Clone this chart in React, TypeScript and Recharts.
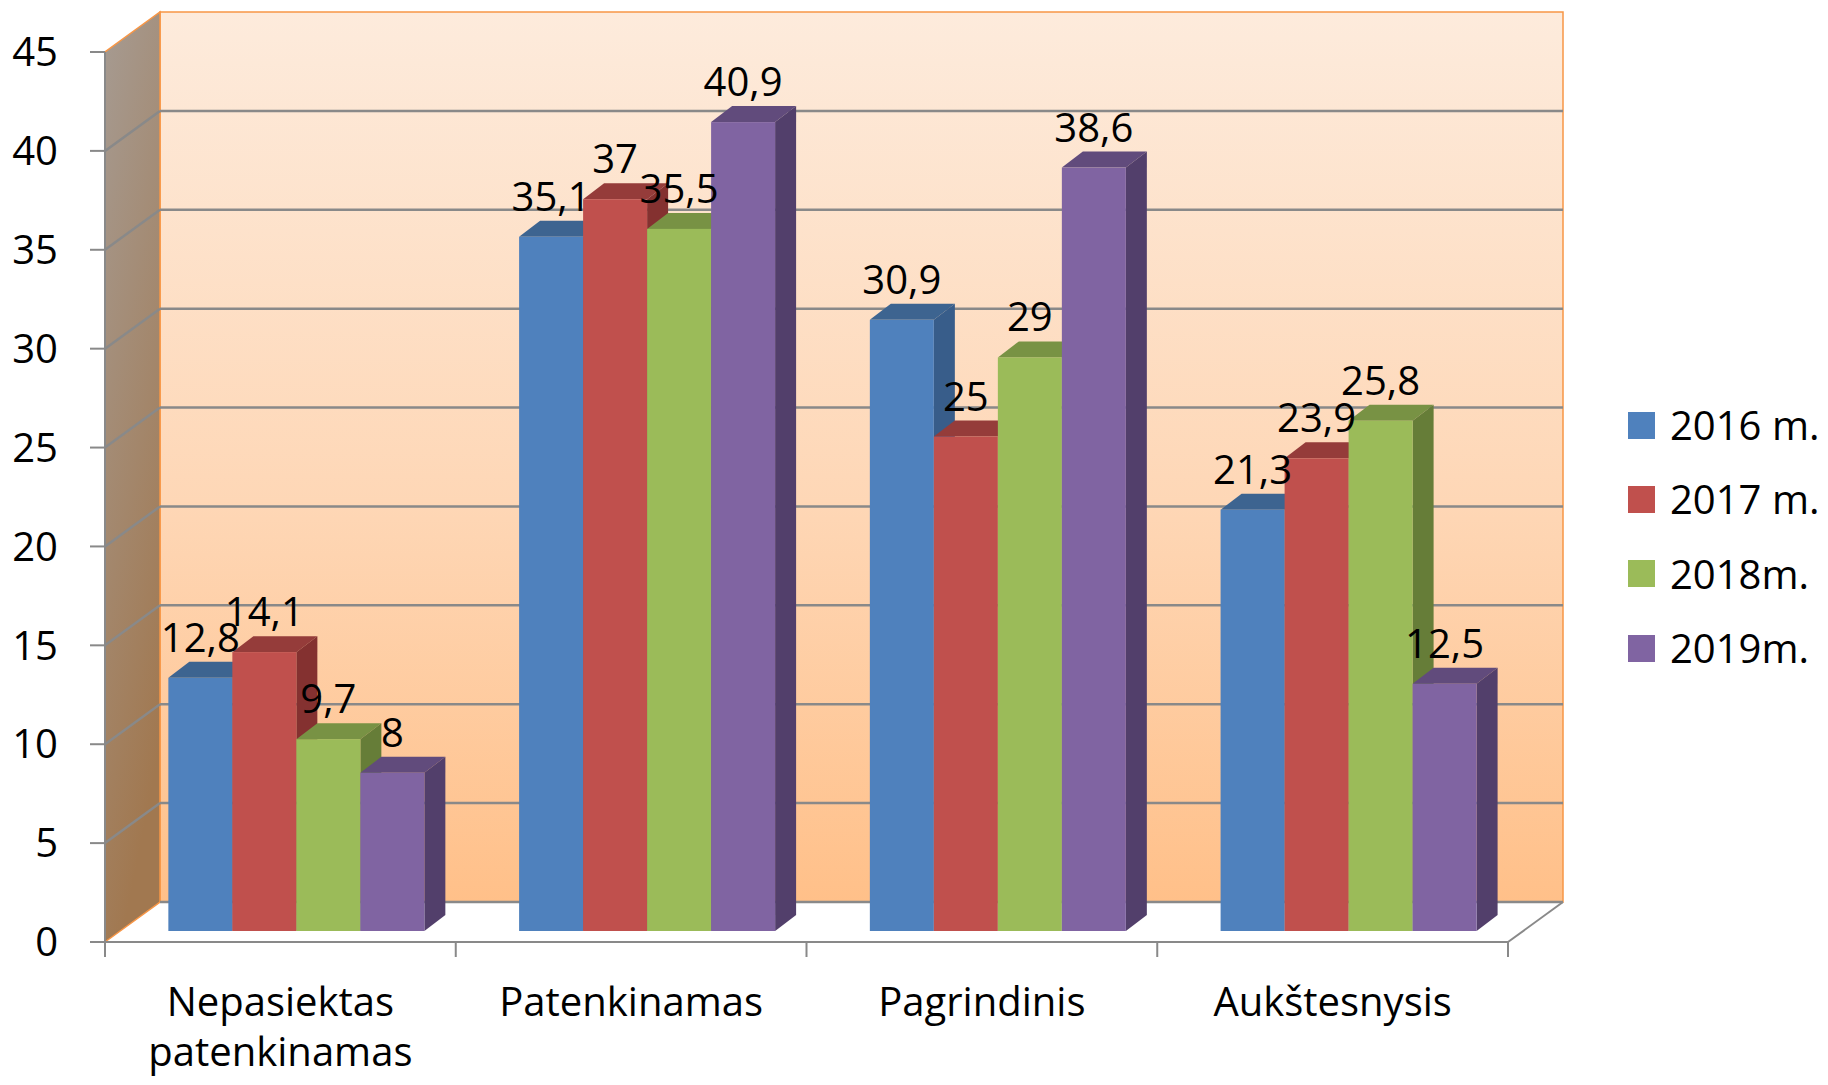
import React from "react";
import {
  BarChart,
  Bar,
  XAxis,
  YAxis,
  Legend,
  LabelList,
  ReferenceArea,
  ReferenceLine,
} from "recharts";

const categories = ["Nepasiektas patenkinamas", "Patenkinamas", "Pagrindinis", "Aukštesnysis"];
const values2016 = [12.8, 35.1, 30.9, 21.3];
const values2017 = [14.1, 37, 25, 23.9];
const values2018 = [9.7, 35.5, 29, 25.8];
const values2019 = [8, 40.9, 38.6, 12.5];
const seriesNames = ["2016 m.", "2017 m.", "2018m.", "2019m."];
const yTicks = [0, 5, 10, 15, 20, 25, 30, 35, 40, 45];

const data = categories.map((name, i) => ({
  name,
  s2016: values2016[i],
  s2017: values2017[i],
  s2018: values2018[i],
  s2019: values2019[i],
}));

const series = [
  { key: "s2016", name: seriesNames[0], front: "#4f81bd", top: "#3d6490", side: "#385d8a" },
  { key: "s2017", name: seriesNames[1], front: "#c0504d", top: "#953c3a", side: "#843130" },
  { key: "s2018", name: seriesNames[2], front: "#9bbb59", top: "#789244", side: "#667d38" },
  { key: "s2019", name: seriesNames[3], front: "#8064a2", top: "#614b7c", side: "#523f6b" },
];

const FONT = "'Open Sans', sans-serif";
const GRID = "#898989";
const ORANGE = "#f79646";

// depth of the 3d box and where the bars sit inside it
const WALL_DX = 55;
const WALL_DY = 40;
const BAR_SHIFT_X = 16;
const BAR_SHIFT_Y = 11;
const BAR_DX = 21;
const BAR_DY = 16;

function Bar3D(props: any) {
  const { x, y, width, height, colors } = props;
  if (!height || height <= 0) return null;
  const fx = x + BAR_SHIFT_X;
  const fy = y - BAR_SHIFT_Y;
  const bottom = fy + height;
  return (
    <g>
      <polygon
        points={`${fx},${fy} ${fx + BAR_DX},${fy - BAR_DY} ${fx + width + BAR_DX},${fy - BAR_DY} ${fx + width},${fy}`}
        fill={colors.top}
      />
      <polygon
        points={`${fx + width},${fy} ${fx + width + BAR_DX},${fy - BAR_DY} ${fx + width + BAR_DX},${bottom - BAR_DY} ${fx + width},${bottom}`}
        fill={colors.side}
      />
      <rect x={fx} y={fy} width={width} height={height} fill={colors.front} />
    </g>
  );
}

function Walls(props: any) {
  const { x, y, width, height } = props;
  const b = y + height;
  const ticks = [0, 1, 2, 3, 4].map((i) => x + (i * width) / categories.length);
  return (
    <g>
      <defs>
        <linearGradient id="backWall" x1="0" y1="0" x2="0" y2="1">
          <stop offset="0%" stopColor="#fdebdc" />
          <stop offset="55%" stopColor="#fed7b6" />
          <stop offset="100%" stopColor="#ffc089" />
        </linearGradient>
        <linearGradient id="sideWall" x1="0" y1="0" x2="0.3" y2="1">
          <stop offset="0%" stopColor="#a69b92" />
          <stop offset="100%" stopColor="#a17850" />
        </linearGradient>
      </defs>
      <rect
        x={x + WALL_DX}
        y={y - WALL_DY}
        width={width}
        height={height}
        fill="url(#backWall)"
        stroke={ORANGE}
        strokeWidth={1.5}
      />
      <polygon
        points={`${x},${b} ${x + WALL_DX},${b - WALL_DY} ${x + WALL_DX},${y - WALL_DY} ${x},${y}`}
        fill="url(#sideWall)"
        stroke={ORANGE}
        strokeWidth={1.5}
      />
      <line x1={x + width} y1={b} x2={x + width + WALL_DX} y2={b - WALL_DY} stroke={GRID} strokeWidth={2} />
      {ticks.map((tx, i) => (
        <line key={i} x1={tx} y1={b} x2={tx} y2={b + 15} stroke={GRID} strokeWidth={2} />
      ))}
    </g>
  );
}

function GridLine3D(props: any) {
  const { x1, y1, x2, y2, value } = props;
  return (
    <g>
      <line x1={x1 + WALL_DX} y1={y1 - WALL_DY} x2={x2 + WALL_DX} y2={y2 - WALL_DY} stroke={GRID} strokeWidth={2.5} />
      {value !== 0 && (
        <line x1={x1} y1={y1} x2={x1 + WALL_DX} y2={y1 - WALL_DY} stroke={GRID} strokeWidth={2.5} />
      )}
    </g>
  );
}

function CategoryTick(props: any) {
  const { x, y, payload } = props;
  const lines = String(payload.value).split(" ");
  return (
    <text x={x} y={y + 74} textAnchor="middle" fontSize={40} fontFamily={FONT} fill="#000">
      {lines.map((line, i) => (
        <tspan key={i} x={x} dy={i === 0 ? 0 : 50}>
          {line}
        </tspan>
      ))}
    </text>
  );
}

function ValueLabel(props: any) {
  const { x, y, width, value } = props;
  if (value == null) return null;
  return (
    <text
      x={Number(x) + Number(width) / 2 + BAR_SHIFT_X}
      y={Number(y) - BAR_SHIFT_Y - 26}
      textAnchor="middle"
      fontSize={40}
      fontFamily={FONT}
      fill="#000"
    >
      {String(value).replace(".", ",")}
    </text>
  );
}

function LegendContent() {
  return (
    <div style={{ fontFamily: FONT, fontSize: 40, color: "#000" }}>
      {series.map((s) => (
        <div key={s.key} style={{ display: "flex", alignItems: "center", height: 74.3 }}>
          <span style={{ width: 27, height: 27, background: s.front, marginRight: 15, display: "inline-block" }} />
          <span style={{ lineHeight: "40px" }}>{s.name}</span>
        </div>
      ))}
    </div>
  );
}

export default function App() {
  return (
    <div style={{ width: 1812, height: 1069, fontFamily: FONT }}>
      <BarChart
        width={1812}
        height={1069}
        data={data}
        margin={{ top: 44, right: 312, bottom: 0, left: 0 }}
        barCategoryGap="13.5%"
        barGap={0}
      >
        <XAxis
          dataKey="name"
          height={135}
          tickSize={0}
          tickMargin={0}
          tickLine={false}
          axisLine={{ stroke: GRID, strokeWidth: 2 }}
          tick={<CategoryTick />}
          interval={0}
        />
        <YAxis
          width={97}
          domain={[0, 45]}
          ticks={yTicks}
          interval={0}
          tickSize={15}
          tickMargin={32}
          tickLine={{ stroke: GRID, strokeWidth: 2 }}
          axisLine={{ stroke: GRID, strokeWidth: 2 }}
          tick={{ fill: "#000", fontSize: 40, fontFamily: FONT }}
        />
        <ReferenceArea y1={0} y2={45} shape={<Walls />} zIndex={-60} ifOverflow="visible" />
        {yTicks
          .filter((v) => v < 45)
          .map((v) => (
            <ReferenceLine
              key={v}
              y={v}
              zIndex={-50}
              ifOverflow="visible"
              shape={(p: any) => <GridLine3D {...p} value={v} />}
            />
          ))}
        <Legend
          layout="vertical"
          align="center"
          verticalAlign="middle"
          content={<LegendContent />}
          wrapperStyle={{ left: 1620, top: 380, width: 200, right: "auto", bottom: "auto" }}
        />
        {series.map((s) => (
          <Bar
            key={s.key}
            dataKey={s.key}
            name={s.name}
            fill={s.front}
            isAnimationActive={false}
            shape={(p: any) => <Bar3D {...p} colors={s} />}
          >
            <LabelList dataKey={s.key} content={<ValueLabel />} />
          </Bar>
        ))}
      </BarChart>
    </div>
  );
}
